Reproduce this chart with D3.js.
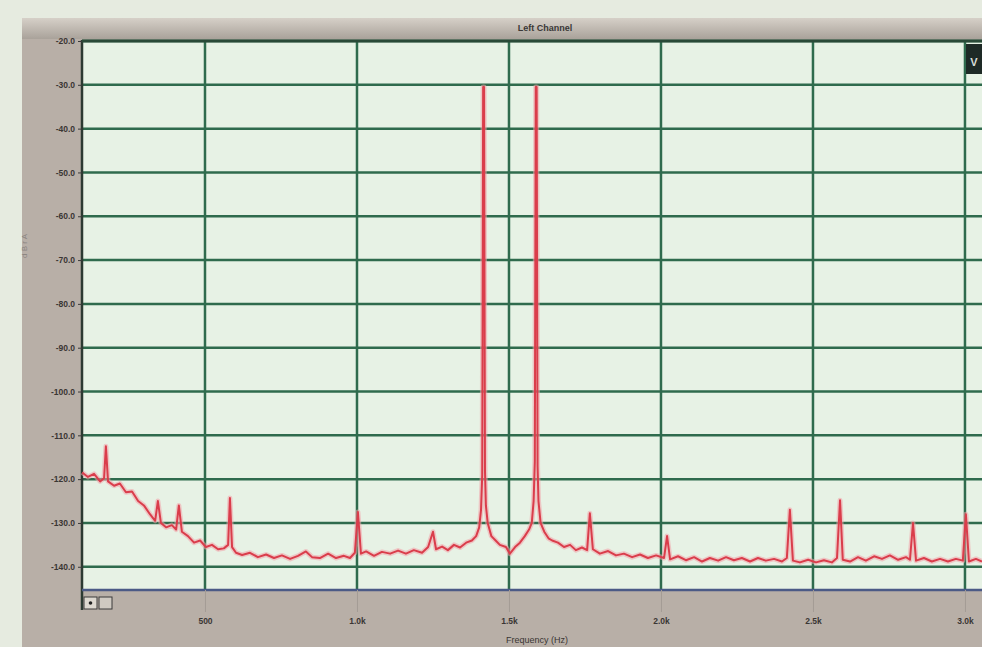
<!DOCTYPE html>
<html>
<head>
<meta charset="utf-8">
<script src="https://cdn.jsdelivr.net/npm/d3@7"></script>
<style>
  body { margin: 0; background: #e6ebe0; overflow: hidden; }
  svg { display: block; font-family: "Liberation Sans", Arial, sans-serif; }
</style>
</head>
<body>
<div id="chart"></div>
<script>
// Chart data
const title = 'Left Channel';
const xLabel = 'Frequency (Hz)';
const yTicks = [-20, -30, -40, -50, -60, -70, -80, -90, -100, -110, -120, -130, -140];
const xTicks = [500, 1000, 1500, 2000, 2500, 3000];
const xTickLabels = ['500', '1.0k', '1.5k', '2.0k', '2.5k', '3.0k'];

// spectrum, frequency in Hz
const freqs = [96, 115, 135, 155, 168, 174, 181, 201, 220, 240, 260, 280, 299, 319, 336, 345, 355, 372,
  391, 405, 414, 424, 444, 464, 484, 503, 523, 543, 562, 576, 582, 589, 602, 622, 648, 674, 701, 727,
  753, 780, 806, 832, 852, 878, 905, 931, 957, 977, 993, 1003, 1013, 1030, 1056, 1082, 1109, 1135,
  1161, 1187, 1214, 1234, 1250, 1260, 1280, 1299, 1319, 1339, 1359,
  1378, 1392, 1402, 1408, 1412, 1414, 1415, 1418, 1419, 1421, 1424, 1430, 1442, 1456, 1470, 1490,
  1503, 1520, 1536, 1552, 1566, 1575, 1581, 1585, 1587, 1588, 1591, 1592, 1594, 1597, 1604, 1616,
  1630, 1642,
  1661, 1681, 1701, 1720, 1740, 1757, 1766,
  1776, 1799, 1826, 1852, 1878, 1905, 1931, 1957, 1984, 2010, 2020, 2030, 2056, 2082, 2109, 2135,
  2161, 2188, 2214, 2240, 2266, 2293, 2319, 2345, 2372, 2398, 2414, 2424, 2434, 2457, 2484, 2510,
  2536, 2562, 2579, 2589, 2598, 2622, 2648, 2674, 2701, 2727, 2753, 2780, 2806, 2819, 2829, 2839,
  2865, 2891, 2918, 2944, 2970, 2993, 3003, 3013, 3036, 3056];
// level in dB
const levels = [-118.5, -119.5, -118.8, -120.5, -119.8, -112.5, -120.5, -121.5, -121, -123, -122.8, -125,
  -126, -128, -129.5, -125, -130, -131, -130.5, -131.5, -126, -132, -133, -134.5, -134, -135.5, -135,
  -136, -135.8, -135, -124.3, -135.5, -136.8, -137.3, -136.8, -137.8, -137.2, -138, -137.4, -138.2,
  -137.5, -136.5, -137.8, -138, -137, -138, -137.5, -138, -136.8, -127.5, -137, -136.5, -137.5, -136.6,
  -137, -136.3, -137, -136.2, -136.8, -135.5, -132, -136, -135.4, -136.2, -135, -135.6, -134.5,
  -134, -133, -131, -127, -119, -60, -30.5, -30.5, -60, -118, -126, -130, -133, -134, -135, -135.5,
  -137, -135.5, -134.5, -133, -131.5, -130, -125, -116, -60, -30.5, -30.5, -60, -117, -125, -130, -132,
  -133.5, -134,
  -134.5, -135.5, -135, -136.2, -135.6, -136.2, -127.8,
  -136, -137, -136.4, -137.4, -137, -137.8, -137.2, -138, -137.4, -138, -133,
  -138.3, -137.6, -138.5, -137.8, -138.8, -138, -138.6, -137.8, -138.5, -138, -138.8, -138, -138.6,
  -138.2, -138.8, -138, -127, -138.6, -139, -138.4, -139, -138.5, -139, -138, -124.8, -138.4, -138.8,
  -137.8, -138.6, -137.6, -138.2, -137.4, -138.4, -137.8, -138.4, -130, -138.6, -138, -138.8, -138.2,
  -138.8, -138.2, -138.6, -128, -138.8, -138.2, -138.8];

const W = 982, H = 647;
const plot = { left: 82, top: 41, right: 982, bottom: 590 };

const svg = d3.select('#chart').append('svg')
  .attr('width', W)
  .attr('height', H);

// Scales
const x = d3.scaleLinear().domain([95.4, 3056]).range([plot.left, plot.right]);
const y = d3.scaleLinear().domain([-145.3, -20]).range([plot.bottom, plot.top]);

// Gray instrument panel
svg.append('rect')
  .attr('x', 22).attr('y', 18)
  .attr('width', W - 22).attr('height', H - 18)
  .attr('fill', '#b8afa7');

const grad = svg.append('defs').append('linearGradient')
  .attr('id', 'titlebar').attr('x1', 0).attr('y1', 0).attr('x2', 0).attr('y2', 1);
grad.append('stop').attr('offset', '0%').attr('stop-color', '#d6d0c8');
grad.append('stop').attr('offset', '100%').attr('stop-color', '#a9a29a');

svg.append('rect')
  .attr('x', 22).attr('y', 18)
  .attr('width', W - 22).attr('height', 21)
  .attr('fill', 'url(#titlebar)');

svg.append('text')
  .attr('x', 545).attr('y', 31)
  .attr('text-anchor', 'middle')
  .attr('font-size', 9)
  .attr('font-weight', 'bold')
  .attr('fill', '#3a3836')
  .text(title);

// Plot background
svg.append('rect')
  .attr('x', plot.left).attr('y', plot.top)
  .attr('width', plot.right - plot.left).attr('height', plot.bottom - plot.top)
  .attr('fill', '#e7f2e5');

// Grid lines
const gridColor = '#2f6b4d';
svg.append('g')
  .selectAll('line')
  .data(yTicks)
  .join('line')
  .attr('x1', plot.left).attr('x2', plot.right)
  .attr('y1', d => y(d)).attr('y2', d => y(d))
  .attr('stroke', gridColor)
  .attr('stroke-width', 2.5);

svg.append('g')
  .selectAll('line')
  .data(xTicks)
  .join('line')
  .attr('x1', d => x(d)).attr('x2', d => x(d))
  .attr('y1', plot.top).attr('y2', plot.bottom)
  .attr('stroke', gridColor)
  .attr('stroke-width', 2.5);

// plot frame
svg.append('line')
  .attr('x1', plot.left).attr('x2', plot.left)
  .attr('y1', plot.top - 1).attr('y2', plot.bottom + 20)
  .attr('stroke', '#2c3a32').attr('stroke-width', 2.5);
svg.append('line')
  .attr('x1', plot.left).attr('x2', plot.right)
  .attr('y1', plot.top).attr('y2', plot.top)
  .attr('stroke', '#2a4a38').attr('stroke-width', 3);
svg.append('line')
  .attr('x1', plot.left).attr('x2', plot.right)
  .attr('y1', plot.bottom).attr('y2', plot.bottom)
  .attr('stroke', '#4b5a86').attr('stroke-width', 2.5);

// Y axis
const yAxis = svg.append('g')
  .attr('transform', `translate(${plot.left},0)`)
  .call(d3.axisLeft(y).tickValues(yTicks).tickSize(4).tickPadding(3)
    .tickFormat(d => d.toFixed(1)));
yAxis.select('.domain').remove();
yAxis.selectAll('line').attr('stroke', '#3a3a3a');
yAxis.selectAll('text')
  .attr('font-size', 8.5)
  .attr('font-weight', 'bold')
  .attr('fill', '#3a3634');

// X axis
const xAxis = svg.append('g')
  .attr('transform', `translate(0,${plot.bottom})`)
  .call(d3.axisBottom(x).tickValues(xTicks).tickSize(22).tickPadding(6)
    .tickFormat((d, i) => xTickLabels[i]));
xAxis.select('.domain').remove();
xAxis.selectAll('line').attr('stroke', '#a49c95').attr('stroke-width', 1);
xAxis.selectAll('text')
  .attr('font-size', 8.5)
  .attr('font-weight', 'bold')
  .attr('fill', '#3a3634');

svg.append('text')
  .attr('x', 537).attr('y', 643)
  .attr('text-anchor', 'middle')
  .attr('font-size', 9)
  .attr('fill', '#3a3634')
  .text(xLabel);

// Y label, faint
svg.append('text')
  .attr('transform', 'translate(27,246) rotate(-90)')
  .attr('text-anchor', 'middle')
  .attr('font-size', 8)
  .attr('fill', '#8a8480')
  .text('d B r A');

// Spectrum trace
const pts = freqs.map((f, i) => [f, levels[i]]);
const line = d3.line().x(d => x(d[0])).y(d => y(d[1]));

svg.append('path')
  .datum(pts)
  .attr('d', line)
  .attr('fill', 'none')
  .attr('stroke', '#f2a3aa')
  .attr('stroke-opacity', 0.55)
  .attr('stroke-width', 5)
  .attr('stroke-linejoin', 'round');

svg.append('path')
  .datum(pts)
  .attr('d', line)
  .attr('fill', 'none')
  .attr('stroke', '#da3d4b')
  .attr('stroke-width', 2)
  .attr('stroke-linejoin', 'round');

// little control buttons under the plot
const btn = svg.append('g');
btn.append('rect').attr('x', 84).attr('y', 597).attr('width', 13).attr('height', 12)
  .attr('fill', '#ddd8d0').attr('stroke', '#3a3a3a').attr('stroke-width', 1);
btn.append('circle').attr('cx', 90.5).attr('cy', 603).attr('r', 1.8).attr('fill', '#222');
btn.append('rect').attr('x', 99).attr('y', 597).attr('width', 13).attr('height', 12)
  .attr('fill', '#cfc9c1').attr('stroke', '#3a3a3a').attr('stroke-width', 1);

// corner icon top right
svg.append('rect').attr('x', 966).attr('y', 44).attr('width', 16).attr('height', 30)
  .attr('fill', '#1e2a26');
svg.append('text').attr('x', 974).attr('y', 66)
  .attr('text-anchor', 'middle').attr('font-size', 11).attr('font-weight', 'bold')
  .attr('fill', '#d8ddd8').text('V');
</script>
</body>
</html>
